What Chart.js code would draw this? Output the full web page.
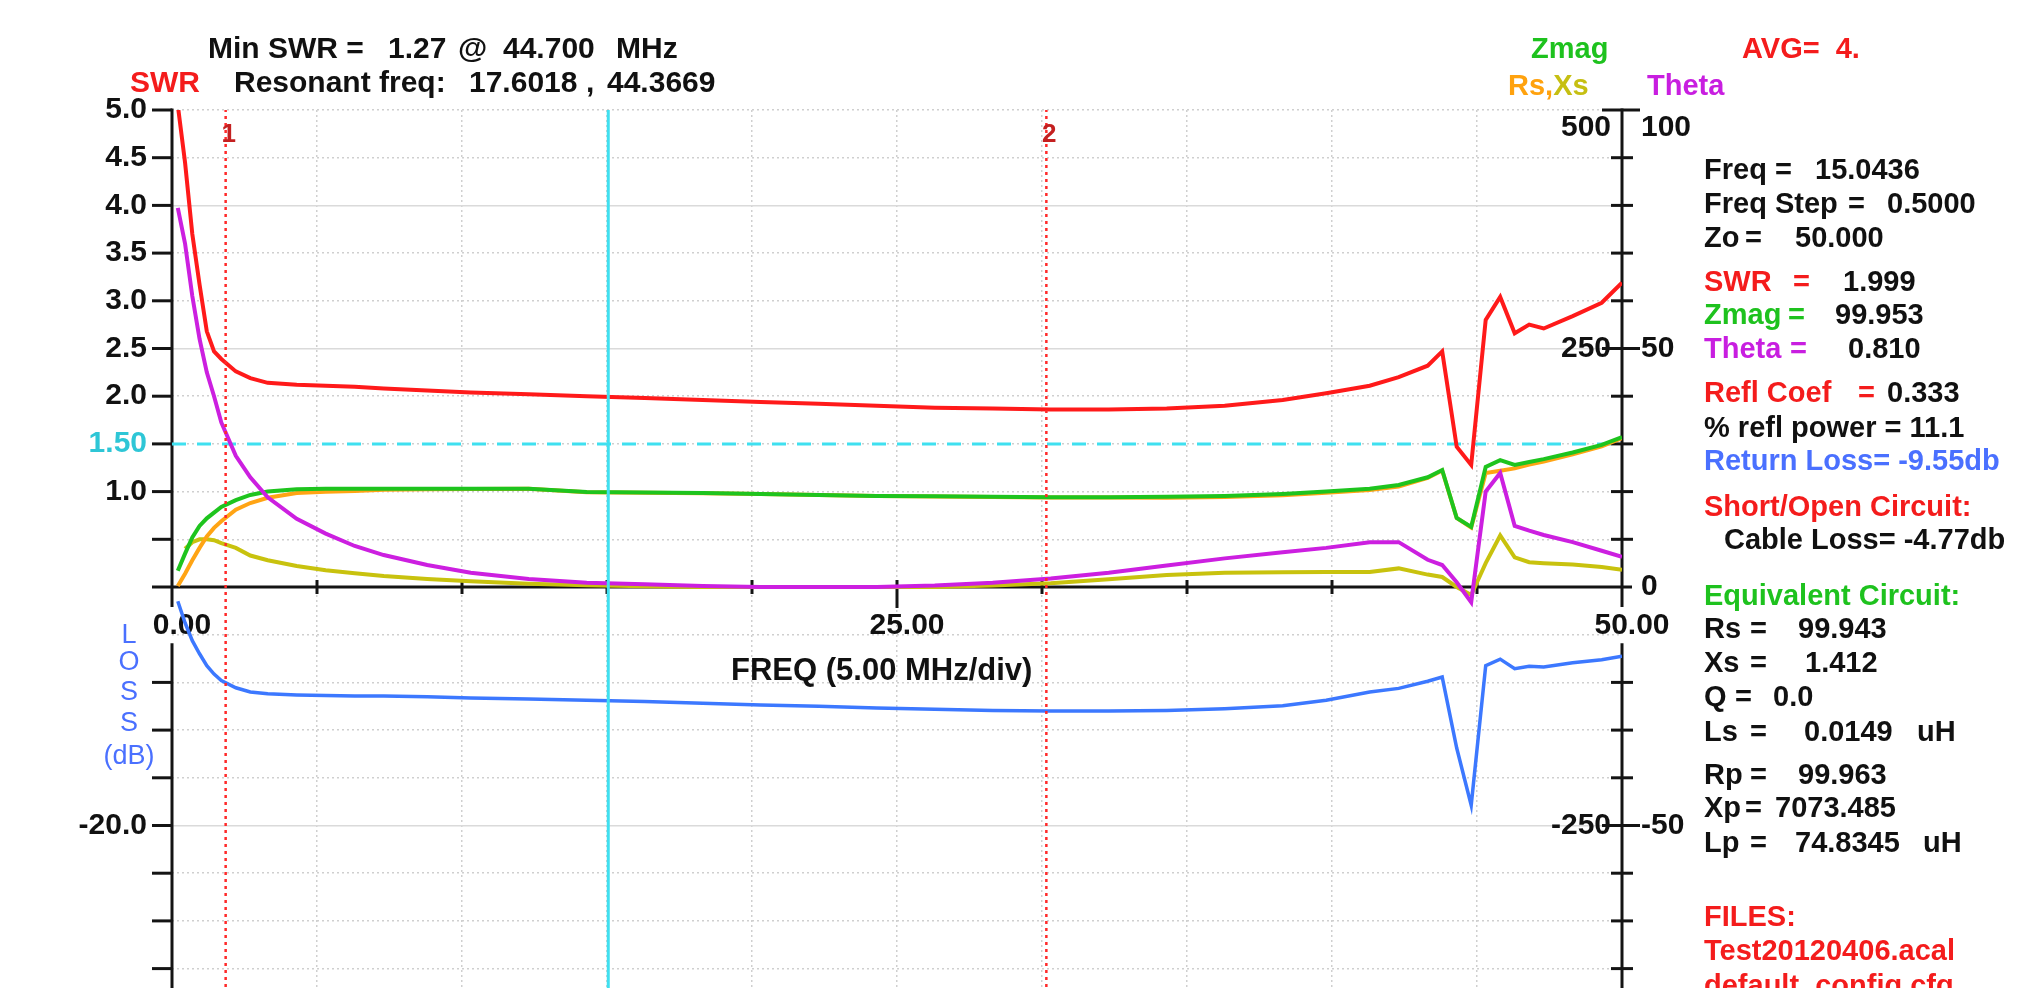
<!DOCTYPE html>
<html>
<head>
<meta charset="utf-8">
<title>SWR sweep</title>
<script src="https://cdn.jsdelivr.net/npm/chart.js@4.4.1/dist/chart.umd.min.js"></script>
<style>
  html, body { margin: 0; padding: 0; background: #fff; }
  #wrap { position: relative; width: 2042px; height: 988px; overflow: hidden; background: #fff; }
  #chart { position: absolute; left: 0; top: 0; }
  .t { position: absolute; font: bold 29px "Liberation Sans", Arial, sans-serif; white-space: pre;
       line-height: 1; transform: translateY(-50%); color: #111; }
  .c { transform: translate(-50%, -50%); }
  .loss { font-weight: normal; font-size: 27px; color: #4a70ff; }
  .mk { font-size: 26px; color: #c42020; }
</style>
</head>
<body>
<div id="wrap">
  <canvas id="chart" width="2042" height="1064"></canvas>
  <div id="texts"></div>
  <div class="t" style="left:1508px;top:85px"><span style="color:#ffa20e">Rs,</span><span style="color:#c6bf12">Xs</span></div>
  <div class="t c mk" id="mk0" style="top:133px">1</div>
  <div class="t c mk" id="mk1" style="top:133px">2</div>
</div>
<script>
// sweep data (MHz)
const freqMHz = [0, 0.2, 0.45, 0.7, 0.95, 1.2, 1.45, 1.7, 2.2, 2.7, 3.3, 4.3, 5.3, 6.3, 7.3, 8.8, 10.3, 12.3, 14.3, 16.3,
  18.3, 20.3, 22.3, 24.3, 26.3, 28.3, 30.3, 32.3, 34.3, 36.3, 38.3, 39.8, 41.3, 42.3, 43.3, 43.8, 44.3, 44.8, 45.3, 45.8,
  46.3, 46.8, 47.3, 48.3, 49.3, 50];
const swr = [null, 5.05, 4.45, 3.7, 3.17, 2.68, 2.47, 2.39, 2.26, 2.19, 2.14, 2.12, 2.11, 2.10, 2.08, 2.06, 2.04, 2.02, 2.00, 1.98,
  1.96, 1.94, 1.92, 1.90, 1.88, 1.87, 1.86, 1.86, 1.87, 1.90, 1.96, 2.03, 2.11, 2.20, 2.32, 2.47, 1.47, 1.28, 2.80, 3.04,
  2.66, 2.75, 2.71, 2.84, 2.98, 3.19];
const zmag = [null, 17, 35, 52, 64, 72, 78, 84, 91, 96.5, 100, 102.5, 103, 103, 103, 103, 103, 103, 99.5, 99,
  98.5, 97.5, 96.5, 95.5, 95, 94.5, 94, 94, 94.5, 95.5, 97.5, 100, 103, 107, 115, 122.6, 72.3, 63, 125.8, 133,
  128, 131, 134, 141, 149, 157];
const rs = [null, 1, 14, 28, 41, 53, 62, 69, 81, 88, 93.5, 98.5, 99.8, 100.5, 101.9, 102.4, 102.7, 102.9, 99.4, 98.9,
  98.4, 97.4, 96.4, 95.4, 94.9, 94.4, 93.9, 93.7, 93.6, 94.3, 96.2, 98.8, 101.8, 105.2, 114.3, 122.1, 72.3, 62.4, 119.5, 121.8,
  124.3, 128.4, 131.6, 139, 147.5, 156];
const xs = [null, null, 40, 47, 50, 50, 49, 46, 41, 33, 28, 22, 17.5, 14.5, 11.5, 8.5, 6, 3.5, 1.8, 0.8,
  0, 0, 0, 0, 0, 1.5, 4, 8, 12.5, 15, 15.5, 15.7, 15.7, 19.5, 13, 10.5, 0, -8.4, 25, 54,
  31, 26, 25, 23.5, 21, 18];
const theta = [null, 79.5, 72, 61, 52, 45, 40, 34.5, 27.5, 23, 18.8, 14.3, 11.2, 8.6, 6.7, 4.6, 3.0, 1.7, 0.9, 0.6,
  0.2, 0, 0, 0, 0.3, 0.9, 1.8, 3.0, 4.5, 6.0, 7.3, 8.2, 9.4, 9.4, 5.7, 4.6, 1.0, -3.2, 20, 23.9,
  12.8, 11.8, 10.9, 9.4, 7.6, 6.3];
const lossDb = [null, -1.2, -3.0, -4.5, -5.6, -6.6, -7.3, -7.85, -8.45, -8.8, -8.95, -9.05, -9.1, -9.15, -9.15, -9.2, -9.3, -9.4, -9.5, -9.6,
  -9.75, -9.9, -10.0, -10.15, -10.25, -10.35, -10.4, -10.4, -10.35, -10.2, -9.95, -9.5, -8.8, -8.5, -7.9, -7.55, -13.5, -18.3, -6.6, -6.05,
  -6.85, -6.65, -6.7, -6.35, -6.1, -5.8];

const cursorFreq = 15.0436;
const markerFreqs = [1.85, 30.15];
const swrRefLevel = 1.5;

// axis ranges (upper half = SWR/Zmag/Theta, lower half = loss)
const swrRange = [-5, 5];
const zmagRange = [-500, 500];
const thetaRange = [-100, 100];
const lossRange = [-40, 40];

const swrTickLabels = { '5': '5.0', '4.5': '4.5', '4': '4.0', '3.5': '3.5', '3': '3.0', '2.5': '2.5', '2': '2.0', '1.5': '1.50', '1': '1.0' };
const lossTickLabels = { '-20': '-20.0' };
const zmagTickLabels = { '500': '500', '250': '250', '-250': '-250' };
const thetaTickLabels = { '100': '100', '50': '50', '0': '0', '-50': '-50' };
const freqTickLabels = { '0': '0.00', '25': '25.00', '50': '50.00' };

const K = '#111', R = '#f41c1c', G = '#1ec21e', M = '#c81ee0', B = '#4a70ff';

// annotation text: [y, [[x, text, colour], ...]]
const textRows = [
  [48, [[208, 'Min SWR =', K], [388, '1.27', K], [458, '@', K], [503, '44.700', K], [616, 'MHz', K]]],
  [82, [[130, 'SWR', R], [234, 'Resonant freq:', K], [469, '17.6018', K], [586, ',', K], [607, '44.3669', K]]],
  [48, [[1531, 'Zmag', G], [1742, 'AVG=  4.', R]]],
  [85, [[1647, 'Theta', M]]],
  [169, [[1704, 'Freq', K], [1775, '=', K], [1815, '15.0436', K]]],
  [203, [[1704, 'Freq Step', K], [1848, '=', K], [1887, '0.5000', K]]],
  [237, [[1704, 'Zo', K], [1745, '=', K], [1795, '50.000', K]]],
  [281, [[1704, 'SWR', R], [1793, '=', R], [1843, '1.999', K]]],
  [314, [[1704, 'Zmag', G], [1788, '=', G], [1835, '99.953', K]]],
  [348, [[1704, 'Theta', M], [1790, '=', M], [1848, '0.810', K]]],
  [392, [[1704, 'Refl Coef', R], [1858, '=', R], [1887, '0.333', K]]],
  [427, [[1704, '% refl power = 11.1', K]]],
  [460, [[1704, 'Return Loss= -9.55db', B]]],
  [506, [[1704, 'Short/Open Circuit:', R]]],
  [539, [[1724, 'Cable Loss= -4.77db', K]]],
  [595, [[1704, 'Equivalent Circuit:', G]]],
  [628, [[1704, 'Rs', K], [1750, '=', K], [1798, '99.943', K]]],
  [662, [[1704, 'Xs', K], [1750, '=', K], [1805, '1.412', K]]],
  [696, [[1704, 'Q', K], [1735, '=', K], [1773, '0.0', K]]],
  [731, [[1704, 'Ls', K], [1750, '=', K], [1804, '0.0149', K], [1917, 'uH', K]]],
  [774, [[1704, 'Rp', K], [1750, '=', K], [1798, '99.963', K]]],
  [807, [[1704, 'Xp', K], [1745, '=', K], [1775, '7073.485', K]]],
  [842, [[1704, 'Lp', K], [1750, '=', K], [1795, '74.8345', K], [1923, 'uH', K]]],
  [916, [[1704, 'FILES:', R]]],
  [950, [[1704, 'Test20120406.acal', R]]],
  [985, [[1704, 'default_config.cfg', R]]]
];
const lossLetters = [[634, 'L'], [661, 'O'], [691, 'S'], [722, 'S'], [755, '(dB)']];

const holder = document.getElementById('texts');
textRows.forEach(([y, segs]) => segs.forEach(([x, txt, col]) => {
  const d = document.createElement('div');
  d.className = 't';
  d.style.left = x + 'px'; d.style.top = y + 'px'; d.style.color = col;
  if (y < 100 && x < 1000) d.style.fontSize = '30px';
  d.textContent = txt;
  holder.appendChild(d);
}));
lossLetters.forEach(([y, txt]) => {
  const d = document.createElement('div');
  d.className = 't c loss';
  d.style.left = '129px'; d.style.top = y + 'px';
  d.textContent = txt;
  holder.appendChild(d);
});
const freqTitle = document.createElement('div');
freqTitle.className = 't';
freqTitle.style.cssText = 'left:731px;top:669px;font-size:31px';
freqTitle.textContent = 'FREQ (5.00 MHz/div)';
holder.appendChild(freqTitle);

const pts = vals => freqMHz.map((f, i) => ({ x: f, y: vals[i] }));
const near = (a, b) => Math.abs(a - b) < 1e-6;
const tickFont = { family: '"Liberation Sans", Arial, sans-serif', size: 30, weight: 'bold' };
// fixed axis widths, and no extra label overhang at the ends
const fitTo = w => s => { s.width = w; s.paddingTop = 0; s.paddingBottom = 0; };

// black axis frame and tick marks, drawn under the traces
const frame = {
  id: 'frame',
  beforeDatasetsDraw(chart) {
    const { ctx, chartArea: a, scales } = chart;
    const sx = scales.x, sy = scales.y, sz = scales.zmag;
    const y0 = sy.getPixelForValue(0);
    const gapTop = sy.getPixelForValue(-0.21), gapBot = sy.getPixelForValue(-0.59);
    const seg = (x1, y1, x2, y2) => { ctx.beginPath(); ctx.moveTo(x1, y1); ctx.lineTo(x2, y2); ctx.stroke(); };
    ctx.save();
    ctx.strokeStyle = '#141414';
    ctx.lineWidth = 3;
    [a.left, a.right].forEach(x => { seg(x, a.top - 1.5, x, gapTop); seg(x, gapBot, x, a.bottom); });
    seg(a.left - 20, y0, a.right + 10, y0);
    sy.ticks.forEach(t => {
      if (near(t.value, 0) || near(t.value, -0.5)) return;
      const y = sy.getPixelForValue(t.value);
      seg(a.left - 20, y, a.left, y);
    });
    sz.ticks.forEach(t => {
      if (near(t.value, 0) || near(t.value, -50)) return;
      const y = sz.getPixelForValue(t.value);
      const long = zmagTickLabels[String(t.value)] !== undefined;
      seg(a.right - (long ? 20 : 11), y, a.right + (long ? 18 : 11), y);
    });
    sx.ticks.forEach(t => {
      if (near(t.value, 0) || near(t.value, 50)) return;
      const x = sx.getPixelForValue(t.value);
      seg(x, y0 - 7, x, y0 + (near(t.value, 25) ? 21 : 7));
    });
    ctx.restore();
  }
};

const line = (data, color, axis, extra) => Object.assign({
  data, yAxisID: axis, borderColor: color, borderWidth: 4, pointRadius: 0, fill: false, tension: 0, spanGaps: false
}, extra || {});

const datasets = [
  line([{ x: markerFreqs[0], y: swrRange[0] }, { x: markerFreqs[0], y: swrRange[1] }], '#ff2a2a', 'y', { borderWidth: 2.5, borderDash: [3, 4] }),
  line([{ x: markerFreqs[1], y: swrRange[0] }, { x: markerFreqs[1], y: swrRange[1] }], '#ff2a2a', 'y', { borderWidth: 2.5, borderDash: [3, 4] }),
  line([{ x: cursorFreq, y: swrRange[0] }, { x: cursorFreq, y: swrRange[1] }], '#3fe0f0', 'y', { borderWidth: 3 }),
  line(pts(theta), '#cc1fe0', 'theta'),
  line(pts(zmag), '#1ec41e', 'zmag'),
  line(pts(rs), '#ffa414', 'zmag'),
  line(pts(xs), '#c8c20e', 'zmag'),
  line(pts(swr), '#ff1a1a', 'y'),
  line(pts(lossDb), '#3c78ff', 'loss', { borderWidth: 3.5 }),
  line([{ x: 0, y: swrRefLevel }, { x: 50, y: swrRefLevel }], '#3fe0f0', 'y', { borderWidth: 3, borderDash: [14, 11] })
];

const gridColor = '#cfcfcf';
const solidGrid = [4, 2.5, -2.5];
const chart = new Chart(document.getElementById('chart'), {
  type: 'line',
  data: { datasets },
  plugins: [frame],
  options: {
    responsive: false,
    animation: false,
    devicePixelRatio: 1,
    events: [],
    layout: { padding: { top: 110, left: 0, right: 0, bottom: 0 } },
    plugins: { legend: { display: false }, tooltip: { enabled: false } },
    scales: {
      x: {
        type: 'linear', axis: 'x', position: 'center', min: 0, max: 50,
        afterFit: s => { s.height = 0; },
        ticks: { stepSize: 5, autoSkip: false, maxRotation: 0, font: tickFont, color: K, padding: 21, labelOffset: 10,
                 callback: v => freqTickLabels[String(v)] || '' },
        grid: { drawTicks: false, lineWidth: 1.5,
                color: c => (c.tick && (near(c.tick.value, 0) || near(c.tick.value, 50))) ? 'rgba(0,0,0,0)' : gridColor },
        border: { display: false, dash: [2, 3] }
      },
      y: {
        position: 'left', min: swrRange[0], max: swrRange[1],
        afterFit: fitTo(172),
        ticks: { stepSize: 0.5, autoSkip: false, font: tickFont, padding: 25,
                 color: c => (c.tick && near(c.tick.value, swrRefLevel)) ? '#2ec6d6' : K,
                 callback: v => v >= 0 ? (swrTickLabels[String(v)] || '')
                   : (lossTickLabels[String(Math.round(v * (lossRange[1] / swrRange[1]) * 100) / 100)] || '') },
        grid: { drawTicks: false, lineWidth: 1.5,
                color: c => (c.tick && near(c.tick.value, 0)) ? 'rgba(0,0,0,0)'
                  : (c.tick && solidGrid.some(v => near(v, c.tick.value)) ? '#dadada' : gridColor) },
        border: { display: false, dash: c => (c.tick && solidGrid.some(v => near(v, c.tick.value))) ? [] : [2, 3] }
      },
      zmag: {
        position: 'right', weight: 0, min: zmagRange[0], max: zmagRange[1],
        afterFit: fitTo(0),
        ticks: { stepSize: 50, autoSkip: false, mirror: true, crossAlign: 'near', padding: -11, font: tickFont, color: K,
                 callback: v => v === zmagRange[1] ? ['', zmagTickLabels[String(v)]] : (zmagTickLabels[String(v)] || '') },
        grid: { display: false, drawTicks: false },
        border: { display: false }
      },
      theta: {
        position: 'right', weight: 1, min: thetaRange[0], max: thetaRange[1],
        afterFit: fitTo(420),
        ticks: { stepSize: 10, autoSkip: false, padding: 19, font: tickFont, color: K,
                 callback: v => v === thetaRange[1] ? ['', thetaTickLabels[String(v)]] : (thetaTickLabels[String(v)] || '') },
        grid: { display: false, drawTicks: false },
        border: { display: false }
      },
      loss: { display: false, min: lossRange[0], max: lossRange[1] }
    }
  }
});

// keep the plot area bottom where the zero line lands at mid height
const wantBottom = 1064;
const diff = wantBottom - chart.chartArea.bottom;
if (Math.abs(diff) > 0.5) chart.resize(2042, Math.round(chart.height + diff));

markerFreqs.forEach((f, i) => {
  document.getElementById('mk' + i).style.left = (chart.scales.x.getPixelForValue(f) + 3) + 'px';
});
</script>
</body>
</html>
